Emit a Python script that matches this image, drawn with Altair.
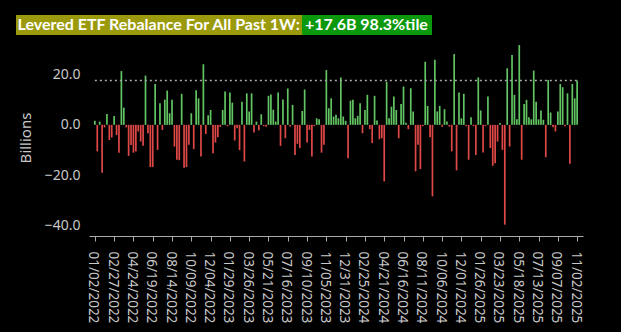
import altair as alt
import pandas as pd

# Weekly levered-ETF rebalance flows (billions), one value per week starting 2022-01-02
vals_2022 = [1.6, -10.5, 1.3, -19, -1.0, 4.3, -6, -5, 3.5, -4,
             -11, 21.3, 6.8, -1, -12.3, -8, -11, -10.5, -2.6, -6.6,
             -8.3, 19.5, -3.3, -16.7, -16.7, 16.2, -9.9, 8.6, -2, 10,
             13.6, 4.6, 9.9, -8.6, -13.8, -14, 12.3, -17, -16.7, -7.9,
             4.6, -9.6, 13.7, 10.5, -12.5, 24, -3.6, 3.8, 5.9, -11.2,
             -7, -4.9]
vals_2023 = [-0.8, 5.9, 13.2, -0.5, 12.8, 8.8, -6.2, -1.3,
             -10, 9.2, -14.5, 12.5, 5.3, 12.5, -3, 1.3, -2.2, 4.2,
             -0.5, -0.7, 11.5, 12, 6, 1.3, 12.8, -8.3, 10, -5.3,
             14.4, -0.7, 7.9, -11.9, -7.5, -9.2, 5.5, 14, -7, -2,
             -12.5, -0.5, 2.6, 2.2, -11, -7.9, 21.7, 6.6, 10.5, 3.3,
             4, 2.6, 18.8, 3.3, 1.6]
vals_2024 = [-13.2,
             9.6, 9.9, 2.6, 3.6, 8.6, -3.3, 5.9, 11.9, -1.7, -7.2,
             11.5, 1.7, -5.7, -5.3, -22.4, 17.1, 2.6, 7.2, 11.2, 5.9,
             -5.3, 8.3, 15.2, 0.8, -1.7, 14.5, 5.3, -18.4, -7.9, -17.5,
             -0.5, 25, 7.5, -4.9, -28.3, 25.8, 5.3, 7.5, -0.7, 6.2,
             1.3, -0.7, -10.5, 28, -18, 12.8, 2.6, 12.3, -0.5, -13.8,
             3]
vals_2025 = [-0.5, -11.9, 18.8, 5.7, -10.9, -0.5, 11.2, -9.2, -16.2,
             -15.2, -6.6, 0.7, -9.9, -39.5, 22.4, -8.6, 27.7, 11.9, 2.2,
             31.6, -13.8, 8.3, 9.9, 3, 2.2, 21.5, 9.2, 2.2, 5.7,
             2, -12.8, 17.8, 4.9, -0.9, -2.6, 5.3, 16.2, 14.9, -0.5,
             12.5, -15.4, 16.2, 10.5, 17.6]

week_start = "2022-01-02"
tick_dates = [
    (2022, 1, 2), (2022, 2, 27), (2022, 4, 24), (2022, 6, 19), (2022, 8, 14),
    (2022, 10, 9), (2022, 12, 4), (2023, 1, 29), (2023, 3, 26), (2023, 5, 21),
    (2023, 7, 16), (2023, 9, 10), (2023, 11, 5), (2023, 12, 31), (2024, 2, 25),
    (2024, 4, 21), (2024, 6, 16), (2024, 8, 11), (2024, 10, 6), (2024, 12, 1),
    (2025, 1, 26), (2025, 3, 23), (2025, 5, 18), (2025, 7, 13), (2025, 9, 7),
    (2025, 11, 2),
]
y_ticks = [-40, -20, 0, 20]
threshold = 17.6
title_left = "Levered ETF Rebalance For All Past 1W:"
title_right = "+17.6B 98.3%tile"

values = vals_2022 + vals_2023 + vals_2024 + vals_2025
dates = pd.date_range(week_start, periods=len(values), freq="7D").strftime("%Y-%m-%d")
df = pd.DataFrame({"date": list(dates), "value": values})
df["sign"] = ["pos" if v >= 0 else "neg" for v in values]

GREEN = "#62c462"
RED = "#e04848"
TXT = "#c8c8c8"
FONT = "Noto Sans"

x_scale = alt.Scale(
    type="utc",
    domain=[alt.DateTime(year=2021, month=12, date=30, hours=12, utc=True),
            alt.DateTime(year=2025, month=11, date=4, hours=12, utc=True)],
)
y_scale = alt.Scale(domain=[-44, 34], nice=False, zero=False)

x_axis = alt.Axis(
    values=[alt.DateTime(year=y, month=m, date=d, utc=True) for (y, m, d) in tick_dates],
    labelExpr="utcFormat(datum.value, '%m/%d/%Y')",
    labelAngle=90, labelColor=TXT, labelFontSize=13.5, labelFont=FONT,
    labelPadding=10, labelOffset=-2, tickColor="#aaaaaa", tickSize=5, domainColor="#aaaaaa",
    grid=False, title=None, labelOverlap=False, labelBound=False, labelSeparation=0,
)
y_axis = alt.Axis(
    values=y_ticks, format=".1f", labelColor=TXT, labelFontSize=14, labelFont=FONT,
    labelPadding=9, domain=False, ticks=False, grid=False,
    title="Billions", titleColor=TXT, titleFontSize=15, titleFont=FONT,
    titleFontWeight="normal", titleX=-56,
)

bars = alt.Chart(df).mark_bar(size=1.7).encode(
    x=alt.X("date:T", scale=x_scale, axis=x_axis),
    y=alt.Y("value:Q", scale=y_scale, axis=y_axis),
    color=alt.Color("sign:N", scale=alt.Scale(domain=["pos", "neg"], range=[GREEN, RED]), legend=None),
)

rule_df = pd.DataFrame({"date": [dates[0]], "end": [dates[-1]], "value": [threshold]})
rule = alt.Chart(rule_df).mark_rule(color="#a8a8a8", strokeDash=[2, 3], strokeWidth=1.5).encode(
    x=alt.X("date:T", scale=x_scale, axis=x_axis),
    x2="end:T",
    y=alt.Y("value:Q", scale=y_scale, axis=y_axis),
)

one = pd.DataFrame({"a": [0]})
box_left = alt.Chart(one).mark_rect(color="#9a9a0c").encode(
    x=alt.value(-73), x2=alt.value(213), y=alt.value(-24), y2=alt.value(-4))
box_right = alt.Chart(one).mark_rect(color="#0c980c").encode(
    x=alt.value(213), x2=alt.value(343), y=alt.value(-24), y2=alt.value(-4))
txt_left = alt.Chart(one).mark_text(
    text=title_left, color="white", font="Lato", fontWeight="bold", fontSize=16,
    align="left", baseline="middle").encode(x=alt.value(-71.5), y=alt.value(-14))
txt_right = alt.Chart(one).mark_text(
    text=title_right, color="white", font="Lato", fontWeight="bold", fontSize=16,
    align="left", baseline="middle").encode(x=alt.value(216), y=alt.value(-14))

chart = alt.layer(bars, rule, box_left, box_right, txt_left, txt_right).properties(
    width=494, height=197,
    padding={"left": 89, "top": 39, "right": 38, "bottom": 96},
    autosize=alt.AutoSizeParams(type="none"),
    background="black",
).configure_view(strokeWidth=0).configure_axis(labelOverlap=False)

chart.save("out.html", embed_options={"renderer": "svg", "actions": False})
